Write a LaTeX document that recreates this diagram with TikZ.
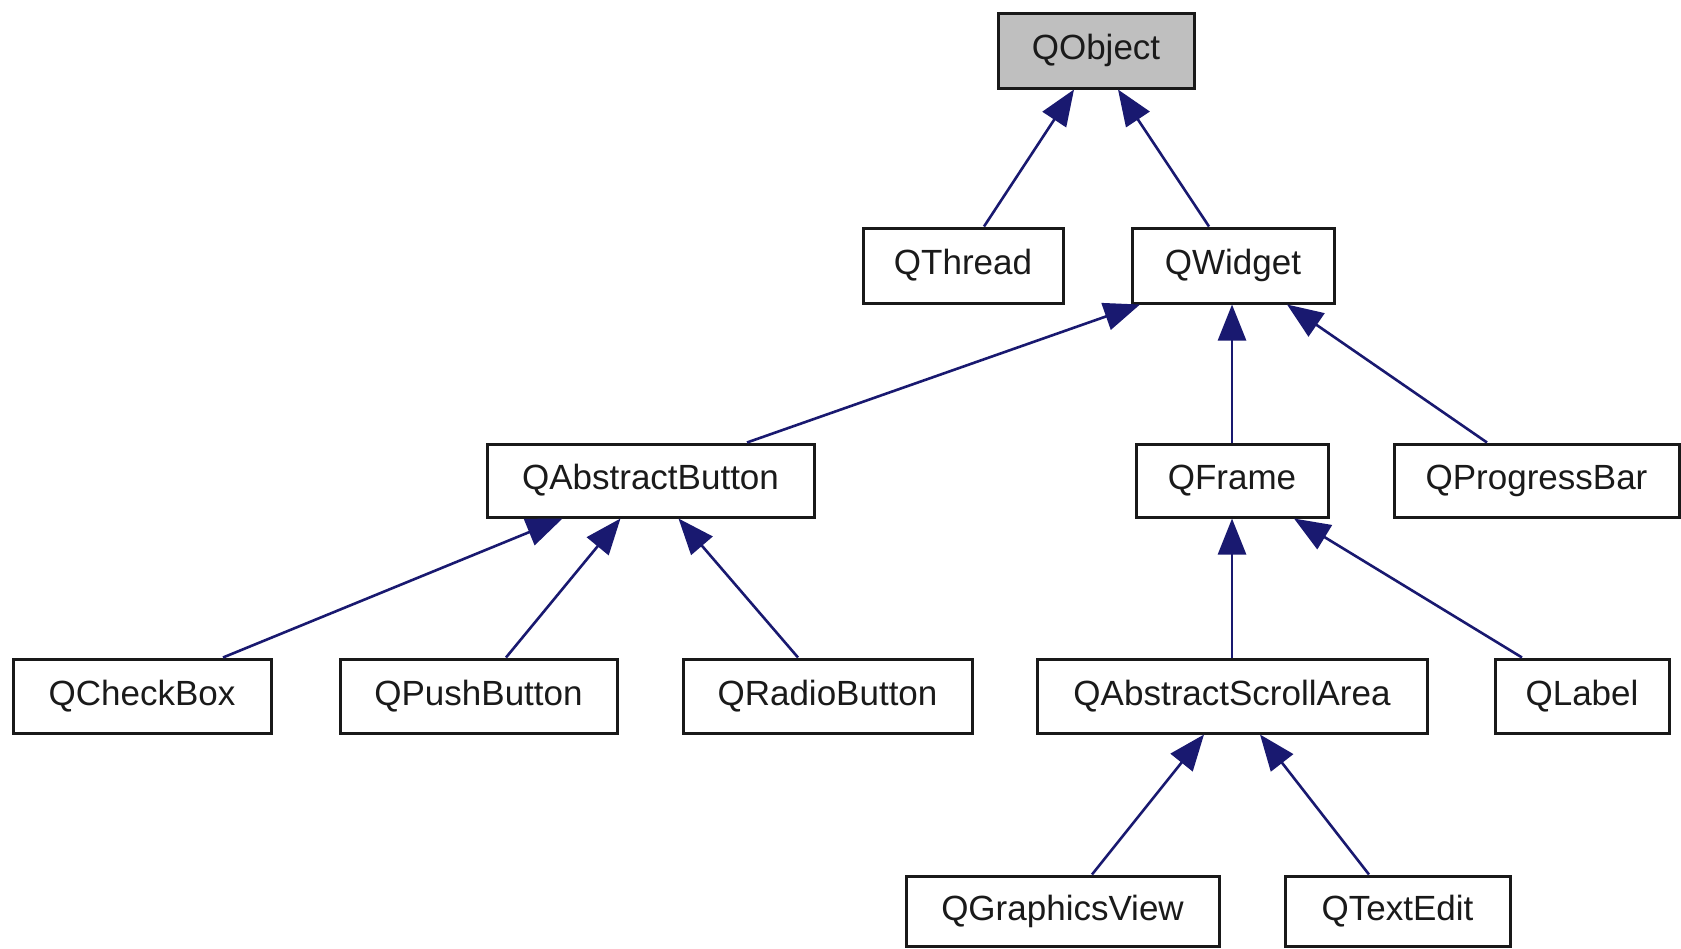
\documentclass[tikz,border=0pt]{standalone}
\usepackage{fontspec}
\setmainfont{Liberation Sans}
\usetikzlibrary{arrows.meta,calc}
\definecolor{edgeblue}{HTML}{191970}
\definecolor{rootgray}{HTML}{BFBFBF}
\definecolor{boxtext}{HTML}{1A1A1A}
\begin{document}
\begin{tikzpicture}[x=0.5pt,y=-0.5pt,
  cls/.style={draw=black!90, line width=1.5pt, fill=white, inner sep=0pt,
    minimum height=37pt, font=\fontsize{17.5}{20}\selectfont, text=boxtext},
  inh/.style={draw=edgeblue, line width=1.3pt,
    -{Triangle[length=18pt,width=14pt,fill=edgeblue]}}]
\useasboundingbox (0,0) rectangle (1681,948);
\fill[white] (0,0) rectangle (1681,948);
% row 0
\node[cls, fill=rootgray, minimum width=98pt, minimum height=37.5pt] (qobject) at (1096,50.5) {QObject};
% row 1
\node[cls, minimum width=100pt, minimum height=37.5pt] (qthread) at (963,265.5) {QThread};
\node[cls, minimum width=101pt, minimum height=37.5pt] (qwidget) at (1233,265.5) {QWidget};
% row 2
\node[cls, minimum width=163.5pt, minimum height=36.5pt] (qabsbtn) at (650.5,480.5) {QAbstractButton};
\node[cls, minimum width=96pt, minimum height=36.5pt] (qframe) at (1232,480.5) {QFrame};
\node[cls, minimum width=142.5pt, minimum height=36.5pt] (qprogress) at (1536.5,480.5) {QProgressBar};
% row 3
\node[cls, minimum width=129pt] (qcheckbox) at (142,696) {QCheckBox};
\node[cls, minimum width=138.5pt] (qpush) at (478.5,696) {QPushButton};
\node[cls, minimum width=144.5pt] (qradio) at (827.5,696) {QRadioButton};
\node[cls, minimum width=195pt] (qscroll) at (1232,696) {QAbstractScrollArea};
\node[cls, minimum width=87pt] (qlabel) at (1582,696) {QLabel};
% row 4
\node[cls, minimum width=156.5pt, minimum height=35pt] (qgraphics) at (1062.5,911) {QGraphicsView};
\node[cls, minimum width=112.5pt, minimum height=35pt] (qtextedit) at (1397.5,911) {QTextEdit};
% edges
\draw[inh] ($(qthread.north)+(21,0)$) -- ($(qobject.south)+(-22,0)$);
\draw[inh] ($(qwidget.north)+(-24,0)$) -- ($(qobject.south)+(22,0)$);
\draw[inh] ($(qabsbtn.north)+(96.5,0)$) -- ($(qwidget.south)+(-93,0)$);
\draw[inh] (qframe.north) -- (qwidget.south -| qframe.north);
\draw[inh] ($(qprogress.north)+(-49.5,0)$) -- ($(qwidget.south)+(54,0)$);
\draw[inh] ($(qcheckbox.north)+(81,0)$) -- ($(qabsbtn.south)+(-88,0)$);
\draw[inh] ($(qpush.north)+(27.5,0)$) -- ($(qabsbtn.south)+(-30,0)$);
\draw[inh] ($(qradio.north)+(-29.5,0)$) -- ($(qabsbtn.south)+(28,0)$);
\draw[inh] (qscroll.north) -- (qframe.south);
\draw[inh] ($(qlabel.north)+(-60,0)$) -- ($(qframe.south)+(62,0)$);
\draw[inh] ($(qgraphics.north)+(29.5,0)$) -- ($(qscroll.south)+(-28,0)$);
\draw[inh] ($(qtextedit.north)+(-28.5,0)$) -- ($(qscroll.south)+(28,0)$);
\end{tikzpicture}
\end{document}
